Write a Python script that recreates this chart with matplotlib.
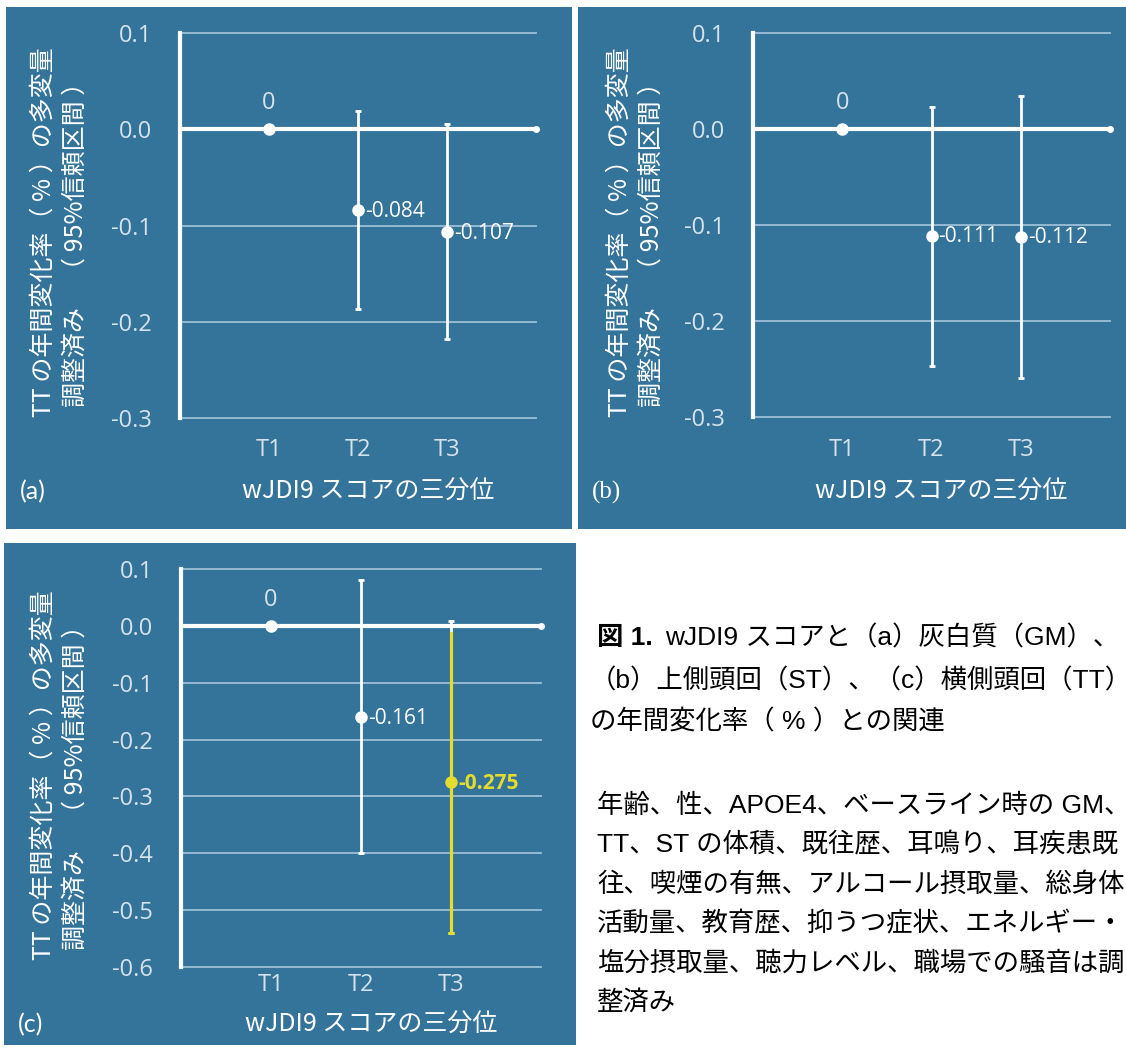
import numpy as np
import matplotlib
matplotlib.use("Agg")
import matplotlib.pyplot as plt
from matplotlib.patches import Rectangle

# tertile categories and estimates (annual change %, 95% CI)
cats = ["T1", "T2", "T3"]

a_mean = [0, -0.084, -0.107]
a_low = [np.nan, -0.187, -0.218]
a_high = [np.nan, 0.019, 0.005]

b_mean = [0, -0.111, -0.112]
b_low = [np.nan, -0.247, -0.259]
b_high = [np.nan, 0.023, 0.034]

c_mean = [0, -0.161, -0.275]
c_low = [np.nan, -0.400, -0.540]
c_high = [np.nan, 0.081, 0.009]
c_hl_top = -0.012  # highlighted part of the T3 interval starts here

a_ticks = [0.1, 0.0, -0.1, -0.2, -0.3]
c_ticks = [0.1, 0.0, -0.1, -0.2, -0.3, -0.4, -0.5, -0.6]

ylab1 = "TT の年間変化率（ % ）の多変量"
ylab2 = "調整済み　（ 95%信頼区間 ）"
xlab = "wJDI9 スコアの三分位"

cap_head = "図 1."
cap_lines = ["wJDI9 スコアと（a）灰白質（GM）、",
             "（b）上側頭回（ST）、（c）横側頭回（TT）",
             "の年間変化率（ % ）との関連"]
note_lines = ["年齢、性、APOE4、ベースライン時の GM、",
              "TT、ST の体積、既往歴、耳鳴り、耳疾患既",
              "往、喫煙の有無、アルコール摂取量、総身体",
              "活動量、教育歴、抑うつ症状、エネルギー・",
              "塩分摂取量、聴力レベル、職場での騒音は調",
              "整済み"]

W, H = 1126, 1048
BG = "#34739a"
GRID = "#9dbfd6"
TXT = "#d6e3ec"
YEL = "#e4dc2e"
JP = ["Noto Sans CJK JP", "DejaVu Sans"]
NUM = ["Open Sans", "Noto Sans CJK JP"]

fig = plt.figure(figsize=(W / 100, H / 100), dpi=100)
fig.patch.set_facecolor("white")


def rect(x0, y0, x1, y1):
    return [x0 / W, 1 - y1 / H, (x1 - x0) / W, (y1 - y0) / H]


def ftext(x, y, s, **kw):
    fig.text(x / W, 1 - y / H, s, **kw)


def panel(bg, box, ticks, mean, low, high, lab, lab_font, ylx, yly, tky, xly,
          hl=None):
    fig.add_artist(Rectangle((bg[0] / W, 1 - bg[3] / H), (bg[2] - bg[0]) / W,
                             (bg[3] - bg[1]) / H, transform=fig.transFigure,
                             facecolor=BG, edgecolor="none", zorder=0))
    ax = fig.add_axes(rect(*box))
    ax.set_facecolor("none")
    ax.set_xlim(0, 4)
    ax.set_ylim(ticks[-1], ticks[0])
    for s in ax.spines.values():
        s.set_visible(False)
    ax.set_xticks([])
    ax.set_yticks(ticks)
    ax.set_yticklabels([f"{t:.1f}" for t in ticks], fontsize=17,
                       family=NUM, color=TXT)
    ax.tick_params(axis="y", length=0, pad=20)

    # grid and axis lines
    for t in ticks:
        if t != 0:
            ax.plot([0, 4], [t, t], color=GRID, lw=1.3, clip_on=False, zorder=1)
    ax.plot([0, 4], [0, 0], color="white", lw=3, clip_on=False, zorder=2,
            solid_capstyle="round")
    ax.plot([4], [0], "o", color="white", ms=4, clip_on=False, zorder=2)
    ax.plot([0, 0], [ticks[-1], ticks[0]], color="white", lw=3,
            clip_on=False, zorder=2)

    xs = np.arange(1, len(cats) + 1)
    for i, x in enumerate(xs):
        col = "white"
        if not np.isnan(low[i]):
            ax.plot([x, x], [low[i], high[i]], color="white", lw=2, zorder=3)
            ax.plot([x, x], [low[i], high[i]], "_", color="white", ms=5,
                    mew=2, zorder=3)
            if hl is not None and i == hl[0]:
                col = YEL
                ax.plot([x, x], [low[i], hl[1]], color=YEL, lw=2.3, zorder=4)
                ax.plot([x], [low[i]], "_", color=YEL, ms=5, mew=2, zorder=4)
        ax.plot([x], [mean[i]], "o", color=col, ms=8, zorder=5)
        if i == 0:
            ax.annotate(f"{mean[i]:g}", (x, mean[i]), xytext=(0, 10),
                        textcoords="offset points", ha="center", va="bottom",
                        fontsize=17, family=NUM, color=TXT)
        else:
            ax.annotate(f"{mean[i]:.3f}", (x, mean[i]), xytext=(5, -1),
                        textcoords="offset points", ha="left", va="center",
                        fontsize=15, family=NUM, color=col,
                        fontweight="bold" if col == YEL else "normal")

    for x, c in zip(xs, cats):
        ftext(box[0] + (box[2] - box[0]) * x / 4, tky, c, ha="center",
              va="center", fontsize=17, family=NUM, color=TXT)
    cx = box[0] + (box[2] - box[0]) * 2 / 4 + 10
    ftext(cx, xly, xlab, ha="center", va="center", fontsize=18, family=JP,
          color="white")
    ftext(ylx, yly, ylab1, ha="center", va="center", rotation=90,
          fontsize=18, family=JP, color="white")
    ftext(ylx + 32, yly + 6, ylab2, ha="center", va="center", rotation=90,
          fontsize=18, family=JP, color="white")
    ftext(bg[0] + 14, xly, lab, ha="left", va="center", fontsize=18,
          family=lab_font, color="white")
    return ax


panel((6, 7, 572, 529), (180, 33, 536, 418), a_ticks, a_mean, a_low, a_high,
      "(a)", ["Lato"], 44, 232, 450, 492)
panel((578, 7, 1126, 529), (753, 33, 1110, 417), a_ticks, b_mean, b_low,
      b_high, "(b)", ["Liberation Serif"], 620, 232, 450, 492)
panel((4, 543, 576, 1045), (181, 569, 541, 967), c_ticks, c_mean, c_low,
      c_high, "(c)", ["Lato"], 44, 775, 985, 1025, hl=(2, c_hl_top))

# caption beside panel (c); long lines run off the right edge
CAP = ["Liberation Sans", "Noto Sans CJK JP"]
ftext(597, 638, cap_head, ha="left", va="center", fontsize=19, family=CAP,
      fontweight="bold", color="black")
ftext(665, 638, cap_lines[0], ha="left", va="center", fontsize=19,
      family=CAP, color="black")
for k, s in enumerate(cap_lines[1:]):
    ftext(590, 681 + 41 * k, s, ha="left", va="center", fontsize=19,
          family=CAP, color="black")
for k, s in enumerate(note_lines):
    ftext(597, 806 + 39.3 * k, s, ha="left", va="center", fontsize=19,
          family=CAP, color="black")

fig.savefig("out.png", dpi=100)
